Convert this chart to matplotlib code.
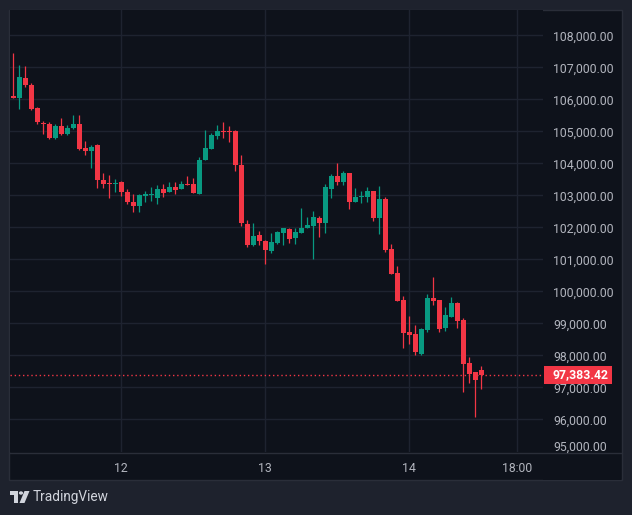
import matplotlib
matplotlib.use("Agg")
import matplotlib.pyplot as plt
import matplotlib.transforms as mtransforms
from matplotlib.patches import Rectangle, Polygon, Circle
from matplotlib.lines import Line2D

# hourly candles, 11th 06:00 -> 14th 12:00
opens = [106090, 106040, 106660, 106440, 105720, 105270, 105240, 104780, 105150, 104900,
         105100, 105240, 104480, 104370, 104570, 103480, 103375, 103350, 103420, 103100,
         102790, 102680, 102990, 103020, 102920, 103200, 103110, 103260, 103195, 103350,
         103340, 103050, 104110, 104450, 104855, 105000, 105000, 105000, 103945, 102110,
         101450, 101760, 101575, 101260, 101510, 101835, 101950, 101665, 101825, 101990,
         102040, 102290, 102135, 103210, 103605, 103425, 103700, 102800, 102955, 102955,
         103135, 102300, 102885, 101320, 100570, 99730, 98730, 98650, 98050, 98780,
         99790, 99725, 98840, 99190, 99630, 99095, 97770, 97485, 97545]
highs = [107450, 107070, 107040, 106500, 105760, 105330, 105300, 105230, 105430, 105210,
         105500, 105500, 104700, 104580, 104600, 103700, 103635, 103510, 103450, 103190,
         103040, 103050, 103135, 103260, 103320, 103350, 103415, 103415, 103445, 103600,
         103530, 104190, 105030, 104960, 105185, 105280, 105155, 105030, 104255, 102235,
         102125, 101875, 101615, 101815, 101885, 101980, 101980, 101980, 102615, 102325,
         102510, 102355, 103355, 103665, 104010, 103760, 103705, 103230, 103135, 103260,
         103140, 103290, 102950, 101490, 100790, 99855, 99230, 98940, 98840, 99915,
         100450, 99730, 99505, 99820, 99665, 99160, 97960, 97490, 97675]
lows = [106040, 105700, 106390, 105670, 105230, 104900, 104770, 104770, 104890, 104890,
        105080, 104430, 104270, 103860, 103240, 103240, 102900, 103115, 102990, 102730,
        102490, 102490, 102800, 102830, 102740, 102960, 103100, 103050, 103190, 103310,
        103070, 103040, 104100, 104440, 104770, 104800, 104670, 103770, 102055, 101395,
        101425, 101450, 100855, 101210, 101470, 101450, 101510, 101490, 101820, 101985,
        101010, 101700, 101835, 102920, 103335, 103335, 102585, 102795, 102770, 102800,
        102210, 101800, 101240, 100540, 99700, 98240, 98350, 98000, 98020, 98715,
        99570, 98715, 98745, 99185, 98840, 96855, 97135, 96060, 96945]
closes = [106050, 106700, 106450, 105700, 105300, 105220, 104780, 105150, 104900, 105100,
          105240, 104460, 104370, 104515, 103490, 103350, 103350, 103375, 103115, 102800,
          102680, 103010, 103020, 103050, 103210, 103085, 103260, 103180, 103340, 103320,
          103075, 104100, 104470, 104875, 105000, 104980, 104980, 103945, 102120, 101455,
          101730, 101575, 101290, 101530, 101845, 101980, 101645, 101845, 101980, 102085,
          102325, 102135, 103260, 103605, 103425, 103700, 102800, 102935, 102980, 103135,
          102300, 102885, 101300, 100550, 99710, 98710, 98640, 98095, 98810, 99790,
          99695, 98810, 99250, 99630, 99065, 97735, 97420, 97230, 97383.42]

time_ticks = [18, 42, 66, 84]
time_labels = ["12", "13", "14", "18:00"]
price_ticks = list(range(96000, 108001, 1000))
last_price = closes[-1]

W, H = 632, 515


def fx(x):
    return x / W


def fy(y):
    return 1 - y / H


BG = "#1e222d"
PANE = "#0e121b"
GRID = "#1e2330"
EDGE = "#2a2e39"
UP = "#089981"
DOWN = "#f23645"
TXT = "#b2b5be"
FS = 8.8

plt.rcParams["font.family"] = ["Roboto", "DejaVu Sans"]

fig = plt.figure(figsize=(6.32, 5.15), dpi=100, facecolor=BG)

# chart panel behind the axes (price scale + time scale area)
fig.patches.append(Rectangle((fx(9), fy(480)), fx(613), 470 / H, transform=fig.transFigure,
                             facecolor=PANE, edgecolor=EDGE, lw=1, zorder=-1))

ax = fig.add_axes([fx(10), fy(452), fx(533), 442 / H])
ax.set_facecolor(PANE)
ax.set_xlim(-0.55, 88.28)
ax.set_ylim(94978, 108790)

xs = list(range(len(opens)))
cols = [UP if c >= o else DOWN for o, c in zip(opens, closes)]
ax.vlines(xs, lows, highs, colors=cols, lw=0.9, zorder=3)
bottoms = [min(o, c) for o, c in zip(opens, closes)]
heights = [max(abs(c - o), 35) for o, c in zip(opens, closes)]
ax.bar(xs, heights, bottom=bottoms, width=0.82, color=cols, lw=0, zorder=4)

# grid and scales
ax.set_yticks(price_ticks)
ax.set_yticklabels([f"{p:,.2f}" for p in price_ticks])
ax.yaxis.tick_right()
ax.set_xticks(time_ticks)
ax.set_xticklabels(time_labels)
ax.tick_params(axis="both", length=0, colors=TXT, labelsize=FS)
ax.tick_params(axis="y", pad=7.2)
ax.tick_params(axis="x", pad=7.0)
ax.grid(color=GRID, lw=1, zorder=0)
for s in ax.spines.values():
    s.set_visible(False)

# 95,000 label, pushed up and clipped by the time scale
fig.text(fx(553), fy(447.5), "95,000.00", color=TXT, fontsize=FS, ha="left", va="center")
fig.patches.append(Rectangle((fx(543), fy(480)), fx(78), 28 / H, transform=fig.transFigure,
                             facecolor=PANE, lw=0, zorder=1))
fig.lines.append(Line2D([fx(9.5), fx(621.5)], [fy(452.5), fy(452.5)], transform=fig.transFigure,
                        color=EDGE, lw=1, zorder=2))

# last price line and label
ax.axhline(last_price, color=DOWN, lw=1, ls=(0, (1, 2)), zorder=2)
blend = mtransforms.blended_transform_factory(ax.transAxes, ax.transData)
ax.add_patch(Rectangle((1 + 1 / 533, last_price - 270), 68 / 533, 540, transform=blend,
                       facecolor=DOWN, lw=0, clip_on=False, zorder=5))
ax.text(1 + 9.5 / 533, last_price, f"{last_price:,.2f}", transform=blend, color="white",
        fontsize=FS, fontweight="bold", ha="left", va="center", clip_on=False, zorder=6)

# TradingView logo
LOGO = "#d1d4dc"
fig.patches.append(Polygon([(fx(10), fy(491)), (fx(18), fy(491)), (fx(18), fy(503)),
                            (fx(14), fy(503)), (fx(14), fy(495)), (fx(10), fy(495))],
                           closed=True, transform=fig.transFigure, facecolor=LOGO, lw=0))
fig.patches.append(Circle((fx(21), fy(493)), 2.1 / W, transform=fig.transFigure,
                          facecolor=LOGO, lw=0))
fig.patches.append(Polygon([(fx(24.5), fy(491)), (fx(29.5), fy(491)), (fx(24.5), fy(503)),
                            (fx(19.5), fy(503))],
                           closed=True, transform=fig.transFigure, facecolor=LOGO, lw=0))
fig.text(fx(33), fy(497), "TradingView", color=LOGO, fontsize=9.8, ha="left", va="center")

fig.savefig("out.png", dpi=100, facecolor=BG)
